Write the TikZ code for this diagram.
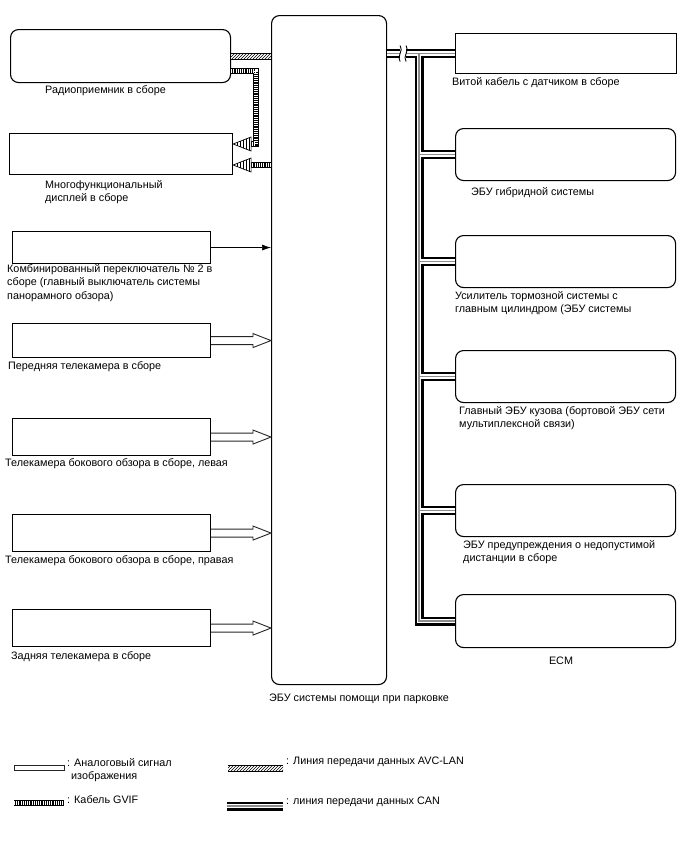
\documentclass[tikz,border=0pt]{standalone}
\usepackage{fontspec}
\setmainfont{Liberation Sans}
\usetikzlibrary{calc,patterns,arrows.meta}
\tikzset{
 box/.style={draw, line width=1.1pt, inner sep=0pt, anchor=north west, fill=white},
 rbox/.style={box, rounded corners=8pt},
 lbl/.style={anchor=north west, inner sep=0pt, align=left, font=\fontsize{10.8}{13.6}\selectfont},
 analog/.style={draw=black!85, line width=0.9pt, fill=white, line join=miter},
 gvifA/.style={line width=6pt, black},
 gvifB/.style={line width=4pt, white, dash pattern=on 1pt off 1.2pt},
 canA/.style={line width=9pt, black},
 canB/.style={line width=4.6pt, white},
 canC/.style={line width=1.5pt, black!45},
 sigline/.style={line width=0.7pt, -{Latex[length=9pt,width=6pt]}},
}
\newcommand\hollowarrow[2]{%
 \draw[analog] ($(#1)+(0,-4)$) -- ($(#2)+(-18,-4)$) -- ($(#2)+(-18,-7)$) -- (#2)
   -- ($(#2)+(-18,7)$) -- ($(#2)+(-18,4)$) -- ($(#1)+(0,4)$);}
\newcommand\gvifhead[1]{%
 \fill[white] (#1) -- ($(#1)+(18,-7)$) -- ($(#1)+(18,7)$) -- cycle;
 \fill[pattern=vertical lines] (#1) -- ($(#1)+(18,-7)$) -- ($(#1)+(18,7)$) -- cycle;
 \draw[line width=0.7pt, line join=miter] (#1) -- ($(#1)+(18,-7)$) -- ($(#1)+(18,7)$) -- cycle;}
\newcommand\canroute[1]{%
 \draw[#1] (ecu.east |- r1.west) -- (r1.west);
 \draw[#1] (tr) -- (tr |- r6.west) -- (r6.west);
 \foreach \n in {r2,r3,r4,r5} {\draw[#1] (tr |- \n.west) -- (\n.west);}}
\begin{document}
\begin{tikzpicture}[x=1pt,y=-1pt]
\useasboundingbox (0,0) rectangle (688,852);
% main ECU
\node[rbox, minimum width=115pt, minimum height=669pt] (ecu) at (271,15) {};
\node[lbl] (ecul) at (269,694) {ЭБУ системы помощи при парковке};
% left side
\node[rbox, minimum width=220pt, minimum height=53pt] (radio) at (10,29) {};
\node[lbl] (radiol) at (45,85) {Радиоприемник в сборе};
\node[box, minimum width=223pt, minimum height=41pt] (mfd) at (9,133) {};
\node[lbl] (mfdl) at (45,180) {Многофункциональный\\дисплей в сборе};
\node[box, minimum width=198pt, minimum height=32pt] (sw) at (12,231) {};
\node[lbl] (swl) at (7,264) {Комбинированный переключатель № 2 в\\сборе (главный выключатель системы\\панорамного обзора)};
\node[box, minimum width=198pt, minimum height=34pt] (fcam) at (12,323) {};
\node[lbl] (fcaml) at (8,361) {Передняя телекамера в сборе};
\node[box, minimum width=198pt, minimum height=37pt] (lcam) at (12,418) {};
\node[lbl] (lcaml) at (5,458) {Телекамера бокового обзора в сборе, левая};
\node[box, minimum width=198pt, minimum height=37pt] (rcam) at (12,514) {};
\node[lbl] (rcaml) at (5,555) {Телекамера бокового обзора в сборе, правая};
\node[box, minimum width=198pt, minimum height=37pt] (bcam) at (12,609) {};
\node[lbl] (bcaml) at (11,651) {Задняя телекамера в сборе};
% right side
\node[box, minimum width=221pt, minimum height=40pt] (r1) at (455,33) {};
\node[lbl] (r1l) at (452,77) {Витой кабель с датчиком в сборе};
\node[rbox, minimum width=220pt, minimum height=52pt] (r2) at (455,128) {};
\node[lbl] (r2l) at (471,187) {ЭБУ гибридной системы};
\node[rbox, minimum width=220pt, minimum height=52pt] (r3) at (455,235) {};
\node[lbl] (r3l) at (455,291) {Усилитель тормозной системы с\\главным цилиндром (ЭБУ системы};
\node[rbox, minimum width=220pt, minimum height=52pt] (r4) at (455,350) {};
\node[lbl] (r4l) at (459,406) {Главный ЭБУ кузова (бортовой ЭБУ сети\\мультиплексной связи)};
\node[rbox, minimum width=220pt, minimum height=52pt] (r5) at (455,484) {};
\node[lbl] (r5l) at (463,540) {ЭБУ предупреждения о недопустимой\\дистанции в сборе};
\node[rbox, minimum width=220pt, minimum height=53pt] (r6) at (455,594) {};
\node[lbl, anchor=center] (r6l) at (561,661) {ECM};
% AVC-LAN
\fill[white] ($(radio.east)+(0,-3)$) rectangle ($(ecu.west |- radio.east)+(0,3)$);
\fill[pattern=north east lines] ($(radio.east)+(0,-3)$) rectangle ($(ecu.west |- radio.east)+(0,3)$);
\draw[line width=0.8pt] ($(radio.east)+(0,-3)$) -- ($(ecu.west |- radio.east)+(0,-3)$)
  ($(radio.east)+(0,3)$) -- ($(ecu.west |- radio.east)+(0,3)$);
% GVIF
\coordinate (h1) at (mfd.east |- 0,144);
\coordinate (h2) at (mfd.east |- 0,165);
\draw[gvifA] ($(radio.east)+(0,15)$) -| (256,144) -- ($(h1)+(17,0)$);
\draw[gvifB] ($(radio.east)+(0,15)$) -| (256,144) -- ($(h1)+(17,0)$);
\gvifhead{h1}
\draw[gvifA] (ecu.west |- h2) -- ($(h2)+(17,0)$);
\draw[gvifB] (ecu.west |- h2) -- ($(h2)+(17,0)$);
\gvifhead{h2}
% switch signal
\draw[sigline] (sw.east) -- (sw.east -| ecu.west);
% cameras
\foreach \c in {fcam,lcam,rcam,bcam} {
  \coordinate (\c E) at (ecu.west |- \c.east);
  \hollowarrow{\c.east}{\c E}
}
% CAN
\coordinate (tr) at (419,0 |- r1.west);
\canroute{canA}
\canroute{canB}
\canroute{canC}
\coordinate (brk) at ($(ecu.east |- r1.west)+(16,0)$);
\fill[white] ($(brk)+(-3,-7)$) rectangle ($(brk)+(3,7)$);
\draw[line width=0.9pt] ($(brk)+(-3,-8)$) .. controls ($(brk)+(1,-3)$) and ($(brk)+(-7,3)$) .. ($(brk)+(-3,8)$);
\draw[line width=0.9pt] ($(brk)+(3,-8)$) .. controls ($(brk)+(7,-3)$) and ($(brk)+(-1,3)$) .. ($(brk)+(3,8)$);
% legend
\draw[analog] (14,765) rectangle (64,770);
\node[lbl] (lg1) at (67,758) {: Аналоговый сигнал\\\hspace{4pt}изображения};
\draw[gvifA] (14,803) -- (64,803);
\draw[gvifB] (14,803) -- (64,803);
\node[lbl] (lg2) at (67,795) {: Кабель GVIF};
\fill[white] (228,765) rectangle (283,771);
\fill[pattern=north east lines] (228,765) rectangle (283,771);
\draw[line width=0.8pt] (228,765) -- (283,765) (228,771) -- (283,771);
\node[lbl] (lg3) at (286,757) {: Линия передачи данных AVC-LAN};
\draw[canA] (227,806) -- (283,806);
\draw[canB] (227,806) -- (283,806);
\draw[canC] (227,806) -- (283,806);
\node[lbl] (lg4) at (286,797) {: линия передачи данных CAN};
\end{tikzpicture}
\end{document}
